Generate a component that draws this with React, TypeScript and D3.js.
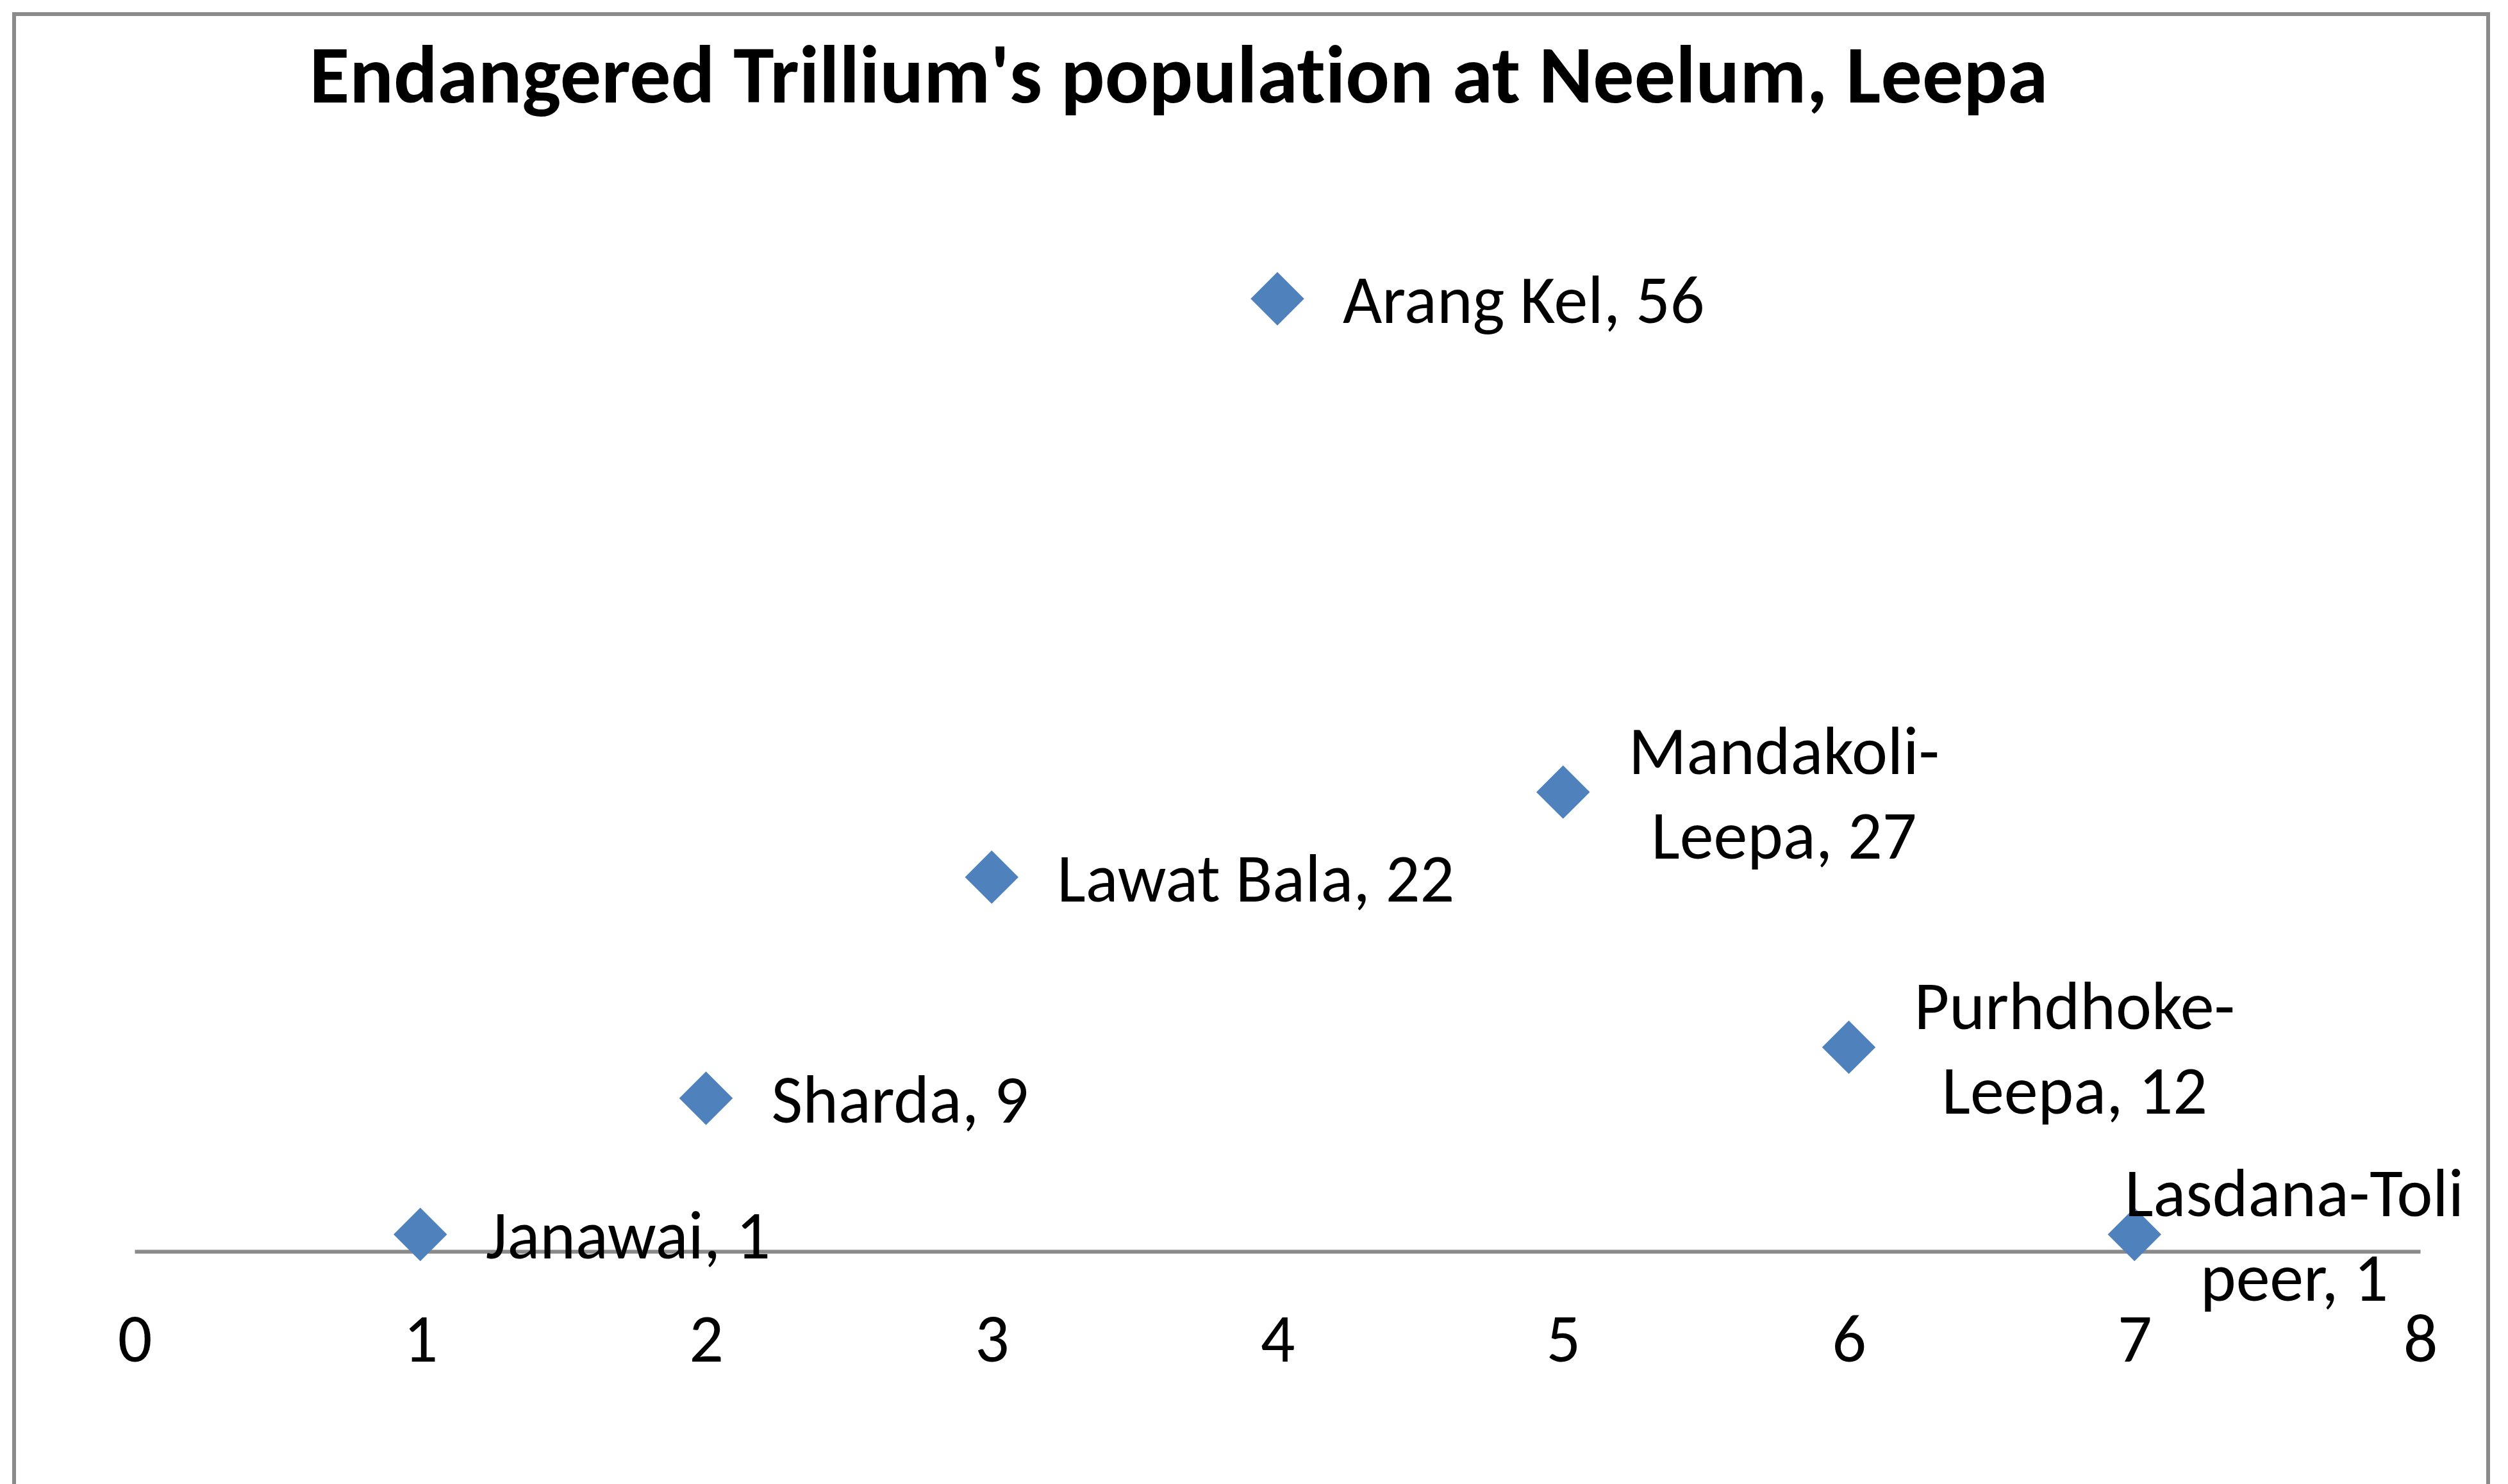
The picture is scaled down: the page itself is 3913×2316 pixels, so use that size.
import { useEffect, useRef } from 'react'
import * as d3 from 'd3'

const siteNames = ['Janawai', 'Sharda', 'Lawat Bala', 'Arang Kel', 'Mandakoli-Leepa', 'Purhdhoke-Leepa', 'Lasdana-Toli peer']
const siteIndex = [1, 2, 3, 4, 5, 6, 7]
const population = [1, 9, 22, 56, 27, 12, 1]
// data labels as Excel wrapped them
const labelLines = [
  ['Janawai, 1'],
  ['Sharda, 9'],
  ['Lawat Bala, 22'],
  ['Arang Kel, 56'],
  ['Mandakoli-', 'Leepa, 27'],
  ['Purhdhoke-', 'Leepa, 12'],
  ['Lasdana-Toli', 'peer, 1'],
]
const xTicks = [0, 1, 2, 3, 4, 5, 6, 7, 8]
const chartTitle = "Endangered Trillium's population at Neelum, Leepa"

const W = 3913
const H = 2316
const FONT = 'Calibri, Carlito, Lato, sans-serif'

export default function App() {
  const svgRef = useRef<SVGSVGElement>(null)

  useEffect(() => {
    if (!svgRef.current) return
    const svg = d3.select(svgRef.current)
    svg.selectAll('*').remove()

    const frame = { left: 22, top: 22, right: 3882 }
    const plot = { left: 210, right: 3776, top: 360, bottom: 1953 }

    const x = d3.scaleLinear().domain([0, 8]).range([plot.left, plot.right])
    const y = d3.scaleLinear().domain([0, 60]).range([plot.bottom, plot.top])

    svg.append('rect')
      .attr('width', W).attr('height', H).attr('fill', '#fff')

    // chart border (bottom edge runs off the picture)
    svg.append('rect')
      .attr('x', frame.left).attr('y', frame.top)
      .attr('width', frame.right - frame.left).attr('height', H + 100)
      .attr('fill', 'none')
      .attr('stroke', '#8a8a8a')
      .attr('stroke-width', 6)

    svg.append('text')
      .attr('x', 1839).attr('y', 160)
      .attr('text-anchor', 'middle')
      .attr('font-family', FONT)
      .attr('font-weight', 700)
      .attr('font-size', 128)
      .style('font-variant-ligatures', 'none')
      .attr('fill', '#000')
      .text(chartTitle)

    // horizontal axis at y = 0, no tick marks
    const xAxis = d3.axisBottom(x).tickValues(xTicks).tickSize(0).tickPadding(0).tickFormat(d3.format('d'))
    svg.append('g')
      .attr('transform', `translate(0,${y(0)})`)
      .call(xAxis)
      .call(g => g.select('.domain').attr('stroke', '#8a8a8a').attr('stroke-width', 6))
      .call(g => g.selectAll('.tick text')
        .attr('y', 172)
        .attr('dy', null)
        .attr('font-family', FONT)
        .attr('font-size', 106)
        .attr('fill', '#000'))

    const data = siteIndex.map((s, i) => ({ s, v: population[i], name: siteNames[i], lines: labelLines[i] }))

    const diamond = d3.symbol().type(d3.symbolSquare).size(59 * 59)
    svg.append('g')
      .selectAll('path')
      .data(data)
      .join('path')
      .attr('d', diamond)
      .attr('transform', d => `translate(${x(d.s)},${y(d.v)}) rotate(45)`)
      .attr('fill', '#4f81bd')

    // data labels to the right of each point, lines centred in a block
    const lineH = 132
    const capHalf = 38
    const labels = svg.append('g')
      .attr('font-family', FONT)
      .attr('font-size', 106)
      .style('font-variant-ligatures', 'none')
      .attr('fill', '#000')

    data.forEach(d => {
      const t = labels.append('text').attr('text-anchor', 'middle')
      const n = d.lines.length
      d.lines.forEach((line, k) => {
        t.append('tspan')
          .attr('y', y(d.v) + capHalf + (k - (n - 1) / 2) * lineH)
          .text(line)
      })
      const widths = (t.selectAll('tspan').nodes() as SVGTSpanElement[]).map(node => node.getComputedTextLength())
      const blockW = d3.max(widths) || 0
      let left = x(d.s) + 102
      if (left + blockW > frame.right - 38) left = frame.right - 38 - blockW
      t.selectAll('tspan').attr('x', left + blockW / 2)
    })
  }, [])

  return (
    <div style={{ position: 'absolute', left: 0, top: 0 }}>
      <svg ref={svgRef} width={W} height={H} style={{ display: 'block' }} />
    </div>
  )
}
